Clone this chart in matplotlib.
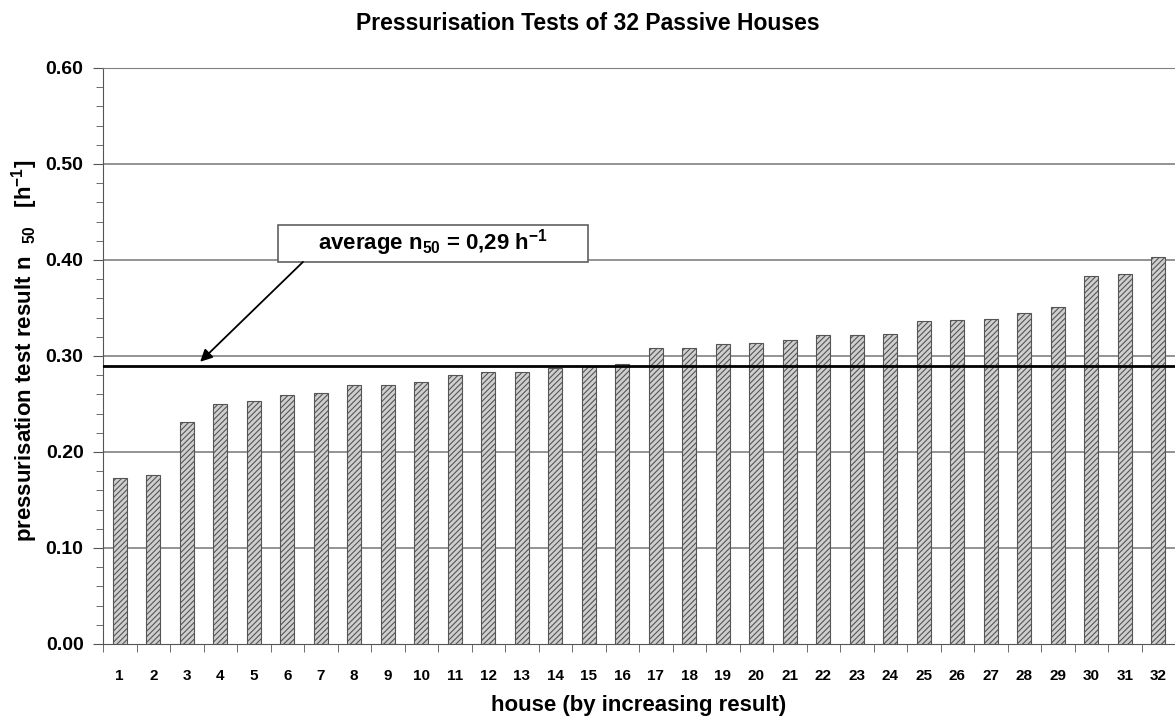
import matplotlib
matplotlib.use('Agg')
import matplotlib.pyplot as plt
from matplotlib.patches import Rectangle
import numpy as np

plt.rcParams['font.family'] = ['Liberation Sans', 'DejaVu Sans']
plt.rcParams['font.weight'] = 'bold'
plt.rcParams['mathtext.fontset'] = 'custom'
plt.rcParams['mathtext.rm'] = 'Liberation Sans:bold'
plt.rcParams['mathtext.it'] = 'Liberation Sans:bold'
plt.rcParams['mathtext.bf'] = 'Liberation Sans:bold'
plt.rcParams['hatch.color'] = '#808080'
plt.rcParams['hatch.linewidth'] = 0.8

# data
houses = list(range(1, 33))
n50 = [0.173, 0.176, 0.231, 0.250, 0.253, 0.259, 0.261, 0.270, 0.270, 0.273,
       0.280, 0.283, 0.283, 0.288, 0.290, 0.292, 0.308, 0.308, 0.313, 0.314,
       0.317, 0.322, 0.322, 0.323, 0.336, 0.338, 0.339, 0.345, 0.351, 0.383,
       0.385, 0.403]
average = 0.29
yticks = [0.0, 0.1, 0.2, 0.3, 0.4, 0.5, 0.6]

fig = plt.figure(figsize=(11.75, 7.17), dpi=100)
ax = fig.add_axes([103 / 1175, 1 - 644 / 717, 1 - 103 / 1175, 576 / 717])

ax.bar(houses, n50, width=0.42, color='#cfcfcf', edgecolor='#555555',
       linewidth=0.8, hatch='//////', zorder=3)

for v in yticks[1:]:
    ax.axhline(v, color='#808080', lw=1.2, zorder=1)

ax.axhline(average, color='black', lw=2.0, zorder=4)

ax.set_xlim(0.5, 32.5)
ax.set_ylim(0, 0.6)
ax.set_yticks(yticks)
ax.set_yticklabels(['%.2f' % v for v in yticks], fontsize=14)
ax.set_yticks(np.arange(0, 0.61, 0.02), minor=True)
ax.set_xticks(houses)
ax.set_xticklabels([str(h) for h in houses], fontsize=11,
                   family=['Liberation Sans Narrow', 'Liberation Sans'])
ax.set_xticks(np.arange(0.5, 33, 1), minor=True)
ax.tick_params(axis='x', which='major', length=0, pad=18)
ax.tick_params(axis='x', which='minor', length=6, color='#555555', direction='out')
ax.tick_params(axis='y', which='major', length=7, color='#555555', pad=7)
ax.tick_params(axis='y', which='minor', length=5, color='#555555')

ax.spines['right'].set_visible(False)
ax.spines['top'].set_color('#808080')
ax.spines['left'].set_color('#555555')
ax.spines['bottom'].set_color('#555555')

ax.set_xlabel('house (by increasing result)', fontsize=16, fontweight='bold')
ax.xaxis.set_label_coords(0.5, (644 - 706) / 576)
ax.xaxis.label.set_va('center')
ax.set_ylabel(r'pressurisation test result n  $_{50}$   [h$^{-1}$]', fontsize=16,
              fontweight='bold')
ax.yaxis.set_label_coords((25 - 103) / 1072, (644 - 351) / 576)
ax.yaxis.label.set_va('center')

fig.text(0.5, 1 - 24 / 717, 'Pressurisation Tests of 32 Passive Houses', ha='center',
         va='center', fontsize=16.5, fontweight='bold')

# annotation box with arrow to the average line
ax.add_patch(Rectangle((5.72, 0.398), 9.26, 0.0385, facecolor='white',
                       edgecolor='#606060', lw=1.2, zorder=6))
ax.text(10.35, 0.418, r'average n$_{50}$ = 0,29 h$^{-1}$', ha='center', va='center',
        fontsize=16, fontweight='bold', zorder=7)
ax.annotate('', xy=(3.40, 0.294), xytext=(6.47, 0.398),
            arrowprops=dict(arrowstyle='-|>', color='black', lw=1.3, mutation_scale=18,
                            shrinkA=0, shrinkB=0),
            zorder=6)

fig.savefig('out.png', dpi=100)
